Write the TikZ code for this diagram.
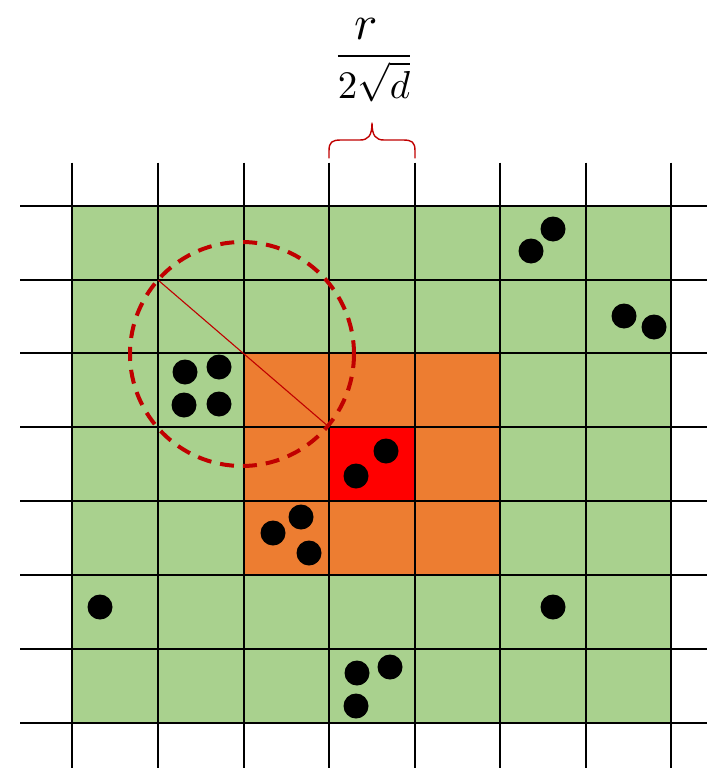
\documentclass[tikz,border=0pt]{standalone}
\usepackage{amsmath}
\usepackage{graphicx}
\definecolor{gridgreen}{HTML}{A9D18E}
\definecolor{gridorange}{HTML}{ED7D31}
\definecolor{gridred}{HTML}{FF0000}
\definecolor{darkred}{HTML}{C00000}
\tikzset{
  gridline/.style={line width=2.8pt, black},
  dot/.style={fill=black},
  radiuscircle/.style={darkred, line width=4pt, dash pattern=on 14pt off 9pt},
  diagline/.style={darkred, line width=1.1pt},
  bracestyle/.style={darkred, line width=1.4pt, line cap=round, line join=round},
}
\begin{document}
\begin{tikzpicture}[x=1pt,y=-1pt]
\useasboundingbox (0,0) rectangle (707,768);
% fills
\fill[gridgreen] (72,206) rectangle (671,723);
\fill[gridorange] (244,353) rectangle (500,575);
\fill[gridred] (329,427) rectangle (415,501);
% grid
\foreach \x in {72,158,244,329,415,500,586,671}
  \draw[gridline] (\x,162.5) -- (\x,768);
\foreach \y in {206,280,353,427,501,575,649,723}
  \draw[gridline] (20,\y) -- (707,\y);
% radius circle and diagonal
\coordinate (cc) at (242,354);
\draw[radiuscircle] (cc) circle (112);
\coordinate (d1) at (158,280);
\coordinate (d2) at (329,427);
\draw[diagline] (d1) -- (d2);
% dots
\foreach \p in {(553,229),(531,251),(624,316),(654,327),
                (185,372),(219,367),(184,405),(219,404),
                (386,451),(356,476),
                (301,517),(273,533),(309,553),
                (100,607),(553,607),
                (357,673),(390,667),(356,706)}
  \fill[dot] \p circle (12.5);
% brace
\draw[bracestyle] (329,158) -- (329,151)
  .. controls (329,142) and (332,140) .. (341,140) -- (360,140)
  .. controls (368,140) and (372,136) .. (372,123)
  .. controls (372,136) and (376,140) .. (384,140) -- (403,140)
  .. controls (412,140) and (415,142) .. (415,151) -- (415,158);
% label
\node[inner sep=0pt, anchor=base, scale=3.9] (lbl) at (374,66) {$\dfrac{\scalebox{1.25}{$r$}}{2\sqrt{d}}$};
\end{tikzpicture}
\end{document}
